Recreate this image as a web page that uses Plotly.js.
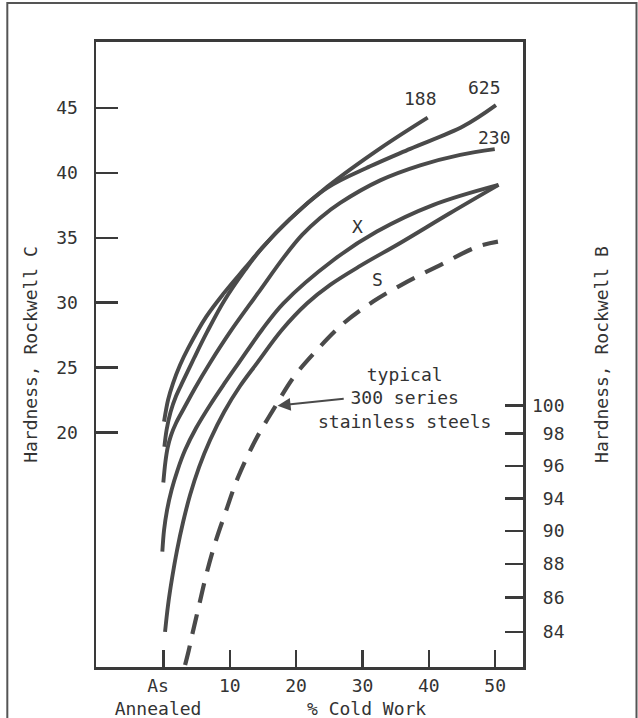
<!DOCTYPE html>
<html>
<head>
<meta charset="utf-8">
<script src="https://cdn.plot.ly/plotly-3.0.1.min.js"></script>
<style>html,body{margin:0;padding:0;background:#fff;}#chart{width:638px;height:718px;}</style>
</head>
<body>
<div id="chart"></div>
<script>
// % cold work (0 = as annealed) and Rockwell C hardness
const x188 = [0.09, 0.69, 1.45, 2.5, 3.71, 6.43, 9.14, 12.31, 14.87, 19.1, 24.68, 32.67, 39.83];
const c188 = [20.82, 22.49, 23.8, 25.19, 26.47, 28.9, 30.75, 32.68, 34.22, 36.46, 38.93, 41.9, 44.27];

const x625 = [0.14, 0.47, 1.07, 1.9, 2.96, 4.62, 6.58, 9.14, 12.31, 14.87, 19.1, 24.68, 31.16, 37.19, 45.19, 50.12];
const c625 = [18.89, 20.18, 21.57, 22.8, 23.96, 25.73, 27.74, 30.13, 32.52, 34.22, 36.46, 38.85, 40.51, 41.86, 43.6, 45.23];

const x230 = [-0.02, 0.29, 0.62, 1.15, 1.9, 3.11, 4.77, 6.92, 10.05, 14.27, 18.19, 20.9, 23.62, 26.64, 32.67, 38.7, 44.74, 49.94];
const c230 = [16.13, 17.71, 18.79, 19.79, 20.72, 21.87, 23.42, 25.27, 27.74, 30.75, 33.53, 35.22, 36.53, 37.69, 39.43, 40.59, 41.4, 41.84];

const xX = [-0.17, 0.09, 0.54, 1.22, 2.13, 3.26, 4.92, 7.03, 9.14, 11.3, 14.83, 18.08, 25.63, 32.17, 40.71, 50.51];
const cX = [10.79, 12.46, 14.0, 15.55, 17.09, 18.63, 20.33, 22.11, 23.73, 25.32, 27.89, 29.95, 33.29, 35.48, 37.54, 39.08];

const xS = [0.24, 0.69, 1.3, 2.05, 2.96, 4.01, 5.37, 7.03, 9.14, 11.55, 14.07, 17.84, 21.66, 25.13, 29.65, 35.69, 43.23, 50.51];
const cS = [4.61, 6.67, 8.76, 10.92, 13.08, 15.16, 17.32, 19.41, 21.57, 23.57, 25.32, 27.89, 29.95, 31.37, 32.83, 34.6, 36.91, 39.08];

const xSS = [3.26, 3.8, 4.27, 5.32, 6.47, 7.78, 9.37, 11.18, 13.82, 16.68, 19.7, 22.87, 27.13, 31.66, 36.7, 41.72, 47.26, 50.42];
const cSS = [2.05, 3.15, 4.25, 6.55, 9.05, 11.45, 13.85, 16.45, 19.35, 21.85, 24.3, 26.2, 28.4, 30.1, 31.6, 32.9, 34.3, 34.7];

// axis ticks
const xTickVals = [0, 10, 20, 30, 40, 50];
const xTickText = ['As\u00a0<br>Annealed\u00a0', '10', '20', '30', '40', '50'];
const cTickVals = [20, 25, 30, 35, 40, 45];
const bTickText = ['100', '98', '96', '94', '90', '88', '86', '84'];
const bTickAtC = [22.05, 19.92, 17.42, 14.91, 12.38, 9.84, 7.27, 4.61];

const INK = '#4a4a4a';
const TXT = '#333333';
const FONT = 'DejaVu Sans Mono, monospace';

function curve(x, y, name, dash) {
  return {
    x: x, y: y, name: name, type: 'scatter', mode: 'lines',
    line: {color: INK, width: dash ? 4.2 : 3.9, shape: 'spline', smoothing: 1, dash: dash || 'solid'},
    hoverinfo: 'skip', showlegend: false
  };
}

const data = [
  curve(x188, c188, '188'),
  curve(x625, c625, '625'),
  curve(x230, c230, '230'),
  curve(xX, cX, 'X'),
  curve(xS, cS, 'S'),
  curve(xSS, cSS, 'typical 300 series stainless steels', '20px,12px'),
  {x: [null], y: [null], yaxis: 'y2', type: 'scatter', mode: 'lines', showlegend: false, hoverinfo: 'skip'}
];

function pad(t) { return t.length < 3 ? '\u00a0' + t : t; }

const layout = {
  width: 638, height: 718,
  margin: {l: 96, r: 115, t: 42, b: 51},
  paper_bgcolor: '#fff', plot_bgcolor: '#fff',
  font: {family: FONT, size: 18, color: TXT},
  showlegend: false,
  xaxis: {
    range: [-10.17, 54.2], tickvals: xTickVals, ticktext: xTickText,
    ticks: 'inside', ticklen: 17, tickwidth: 2.5, tickcolor: '#3a3a3a',
    showline: true, linewidth: 3, linecolor: '#3a3a3a', mirror: true,
    showgrid: false, zeroline: false, tickfont: {size: 18, color: TXT}
  },
  yaxis: {
    range: [1.9, 50.1], tickvals: cTickVals,
    ticks: 'inside', ticklen: 22, tickwidth: 2.5, tickcolor: '#3a3a3a',
    showline: true, linewidth: 2.5, linecolor: '#3a3a3a', mirror: true,
    showgrid: false, zeroline: false, ticklabelstandoff: 12,
    tickfont: {size: 18, color: TXT},
    title: {text: 'Hardness, Rockwell C', font: {size: 18, color: TXT}, standoff: 14}
  },
  yaxis2: {
    overlaying: 'y', side: 'right', range: [1.9, 50.1],
    tickvals: bTickAtC, ticktext: bTickText.map(pad),
    ticks: 'inside', ticklen: 18, tickwidth: 2.5, tickcolor: '#3a3a3a',
    showline: false, showgrid: false, zeroline: false, ticklabelstandoff: 8,
    tickfont: {size: 18, color: TXT},
    title: {text: 'Hardness, Rockwell B', font: {size: 18, color: TXT}, standoff: 31}
  },
  shapes: [{
    type: 'rect', xref: 'paper', yref: 'paper',
    x0: -0.2077, x1: 1.2658, y0: -0.12, y1: 1.0624,
    line: {color: '#555', width: 2}
  }],
  annotations: [
    {x: 38.7, y: 45.72, text: '188', showarrow: false},
    {x: 48.4, y: 46.6, text: '625', showarrow: false},
    {x: 49.9, y: 42.75, text: '230', showarrow: false},
    {x: 29.2, y: 35.86, text: 'X', showarrow: false},
    {x: 32.2, y: 31.75, text: 'S', showarrow: false},
    {x: 36.3, y: 22.65, text: 'typical<br>300 series<br>stainless steels', showarrow: false, align: 'center'},
    {x: 17.2, y: 22.05, ax: 27.4, ay: 22.6, axref: 'x', ayref: 'y', text: '', showarrow: true,
     arrowhead: 2, arrowsize: 1.3, arrowwidth: 2, arrowcolor: INK, standoff: 0},
    {x: 30.6, xref: 'x', y: -0.066, yref: 'paper', text: '% Cold Work', showarrow: false, yanchor: 'middle'}
  ]
};

Plotly.newPlot('chart', data, layout, {staticPlot: true, displayModeBar: false});
</script>
</body>
</html>
